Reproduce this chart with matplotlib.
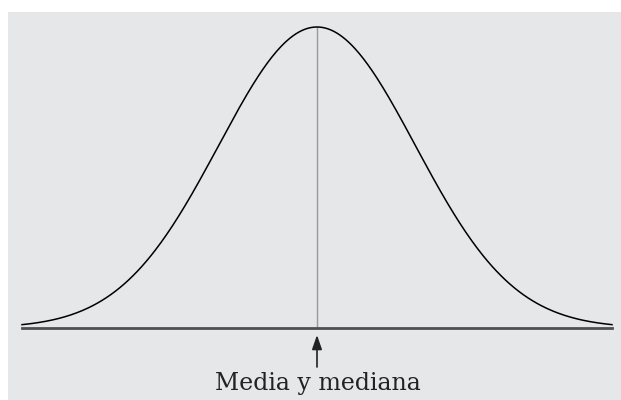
import matplotlib.pyplot as plt
import numpy as np
from matplotlib.patches import Rectangle

# normal curve parameters
media = 0.0
desv = 1.0
z_lim = 3.0
etiqueta = "Media y mediana"

x = np.linspace(media - z_lim * desv, media + z_lim * desv, 400)
y = np.exp(-0.5 * ((x - media) / desv) ** 2) / (desv * np.sqrt(2 * np.pi))
pico = y.max()

W, H = 621, 400
fig = plt.figure(figsize=(W / 100, H / 100), dpi=100)
fig.patch.set_facecolor("white")

ax = fig.add_axes([0, 0, 1, 1])
ax.set_facecolor("none")
ax.axis("off")

# gray panel behind everything
ax.add_patch(Rectangle((8 / W, 0), 1 - 8 / W, 1 - 12 / H,
                       transform=fig.transFigure, facecolor="#e6e7e9",
                       edgecolor="none", zorder=0))

# pixel layout -> data limits
cx, x_izq, x_der = 317, 22, 612
px_u = (x_der - x_izq) / (2 * z_lim * desv)
ax.set_xlim(media - cx / px_u, media + (W - cx) / px_u)
y_base, y_pico = 328, 27
py_u = (y_base - y_pico) / pico
ax.set_ylim(-(H - y_base) / py_u, pico + y_pico / py_u)

def ypx(p):
    return (y_base - p) / py_u

ax.plot(x, y, color="black", lw=1.1, zorder=3)
ax.plot([x[0], x[-1]], [0, 0], color="#505050", lw=2.0, zorder=2)
ax.plot([media, media], [0, pico], color="#9a9a9a", lw=1.0, zorder=1)

ax.annotate("", xy=(media, ypx(335)), xytext=(media, ypx(367)),
            arrowprops=dict(arrowstyle="-|>,head_length=0.86,head_width=0.3",
                            color="#222222", lw=1.2, mutation_scale=10,
                            shrinkA=0, shrinkB=0))
ax.text(media + 0.5 / px_u, ypx(390), etiqueta, ha="center", va="baseline",
        fontsize=17, family="DejaVu Serif", color="#222222")

fig.savefig("out.png", dpi=100)
